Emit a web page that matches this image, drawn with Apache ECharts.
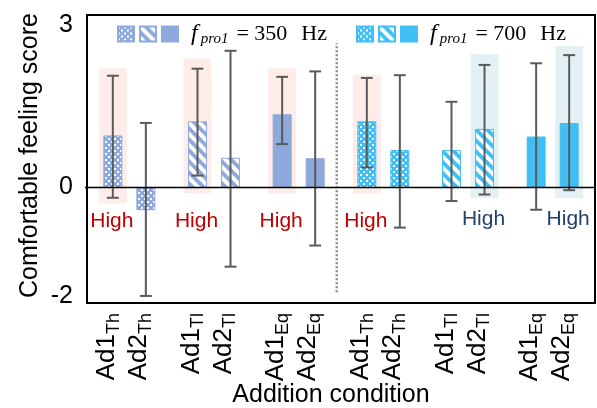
<!DOCTYPE html>
<html>
<head>
<meta charset="utf-8">
<script src="https://cdn.jsdelivr.net/npm/echarts@6/dist/echarts.min.js"></script>
<style>
html, body { margin: 0; padding: 0; background: #fff; }
#main { width: 597px; height: 408px; }
</style>
</head>
<body>
<div id="main"></div>
<script>
// conditions (one category = one Ad1/Ad2 pair)
var conditions = ['Th', 'Tl', 'Eq', 'Th', 'Tl', 'Eq'];
var freqs = ['350', '350', '350', '700', '700', '700'];
// mean and error bar ends
var ad1Mean = [0.95, 1.21, 1.34, 1.21, 0.68, 0.93];
var ad1Low = [-0.19, 0.22, 0.80, 0.37, -0.25, -0.41];
var ad1High = [2.06, 2.19, 2.04, 2.02, 1.58, 2.29];
var ad2Mean = [-0.41, 0.54, 0.53, 0.68, 1.07, 1.18];
var ad2Low = [-2.00, -1.46, -1.07, -0.74, -0.13, -0.05];
var ad2High = [1.19, 2.52, 2.14, 2.07, 2.26, 2.44];
// "High" boxes: category, bar (1 = Ad1, 2 = Ad2), box range, label height
var hlCat = [0, 1, 2, 3, 4, 5];
var hlBar = [1, 1, 1, 1, 2, 2];
var hlLow = [-0.29, -0.10, -0.11, -0.11, -0.20, -0.20];
var hlHigh = [2.20, 2.38, 2.20, 2.07, 2.46, 2.61];
var hlKind = ['red', 'red', 'red', 'red', 'blue', 'blue'];
var highY = [-0.62, -0.62, -0.62, -0.62, -0.58, -0.58];
var highText = 'High';
// dotted separator between the two frequencies
var dividerAfter = 2;
var dividerRange = [-1.93, 2.66];
var yLabels = [-2, 0, 3];

var FONT = 'Liberation Sans';
var colors = { '350': '#8EA9DB', '700': '#3FBFF3' };
var patternOf = { Th: 'dots', Tl: 'stripes', Eq: 'solid' };
var hlColors = { red: '#FDECE7', blue: '#E4F1F4' };
var highColors = { red: '#C00000', blue: '#24406B' };

function makeFill(color, pat) {
    if (pat === 'solid') return color;
    var c = document.createElement('canvas');
    var g = c.getContext('2d');
    if (pat === 'dots') {
        c.width = 6; c.height = 6;
        g.fillStyle = color; g.fillRect(0, 0, 6, 6);
        g.fillStyle = '#fff';
        g.fillRect(0, 0, 2, 2);
        g.fillRect(3, 3, 2, 2);
    } else {
        var n = 11;
        c.width = n; c.height = n;
        g.fillStyle = color; g.fillRect(0, 0, n, n);
        g.strokeStyle = '#fff'; g.lineWidth = 4;
        g.beginPath();
        for (var k = -1; k <= 1; k++) {
            g.moveTo(k * n - 2, -2);
            g.lineTo(k * n + n + 2, n + 2);
        }
        g.stroke();
    }
    return { image: c, repeat: 'repeat' };
}

function barX(api, cat, side) {
    var band = api.size([1, 0])[0];
    return api.coord([cat, 0])[0] + (side === 1 ? -1 : 1) * band * 0.195;
}

function renderBar(params, api) {
    var cat = api.value(0), side = api.value(1);
    var band = api.size([1, 0])[0];
    var x = barX(api, cat, side);
    var w = band * 0.212;
    var y0 = api.coord([cat, 0])[1];
    var ym = api.coord([cat, api.value(2)])[1];
    var lo = api.coord([cat, api.value(3)])[1];
    var hi = api.coord([cat, api.value(4)])[1];
    var cap = band * 0.07;
    var st = api.style();
    var err = { stroke: '#5a5a5a', lineWidth: 2 };
    return {
        type: 'group',
        children: [
            { type: 'rect', shape: { x: x - w / 2, y: Math.min(ym, y0), width: w, height: Math.abs(y0 - ym) },
              style: { fill: st.fill, stroke: st.stroke, lineWidth: 1 } },
            { type: 'line', shape: { x1: x, y1: lo, x2: x, y2: hi }, style: err },
            { type: 'line', shape: { x1: x - cap, y1: lo, x2: x + cap, y2: lo }, style: err },
            { type: 'line', shape: { x1: x - cap, y1: hi, x2: x + cap, y2: hi }, style: err }
        ]
    };
}

function renderHighlight(params, api) {
    var k = params.dataIndex;
    var cat = api.value(0), side = api.value(1);
    var band = api.size([1, 0])[0];
    var x = barX(api, cat, side);
    var w = band * 0.33;
    var lo = api.coord([cat, api.value(2)])[1];
    var hi = api.coord([cat, api.value(3)])[1];
    var ty = api.coord([cat, api.value(4)])[1];
    return {
        type: 'group',
        children: [
            { type: 'rect', shape: { x: x - w / 2, y: hi, width: w, height: lo - hi },
              style: { fill: hlColors[hlKind[k]] } },
            { type: 'text', style: { text: highText, x: x - 1, y: ty, align: 'center', verticalAlign: 'middle',
              fill: highColors[hlKind[k]], font: '21px "' + FONT + '"' } }
        ]
    };
}

function renderLines(params, api) {
    var band = api.size([1, 0])[0];
    var cat = api.value(0);
    var x = (api.coord([cat, 0])[0] + api.coord([cat + 1, 0])[0]) / 2 - band * 0.05;
    var y0 = api.coord([0, 0]);
    var xEnd = api.coord([conditions.length - 1, 0])[0] + band / 2;
    return {
        type: 'group',
        children: [
            { type: 'line', shape: { x1: x, y1: api.coord([cat, api.value(1)])[1], x2: x, y2: api.coord([cat, api.value(2)])[1] },
              style: { stroke: '#8c8c8c', lineWidth: 2.5, lineDash: [2, 2] } },
            { type: 'line', shape: { x1: y0[0] - band / 2 - 2, y1: y0[1], x2: xEnd, y2: y0[1] },
              style: { stroke: '#000', lineWidth: 1.6 } }
        ]
    };
}

var series = [];
var legendNames = { '350': [], '700': [] };
conditions.forEach(function (cond, i) {
    var pat = patternOf[cond];
    var color = colors[freqs[i]];
    var name = freqs[i] + ' ' + pat;
    legendNames[freqs[i]].push(name);
    series.push({
        type: 'custom',
        name: name,
        z: 3,
        itemStyle: { color: makeFill(color, pat), borderColor: color, borderWidth: 1 },
        encode: { x: 0, y: 2 },
        data: [[i, 1, ad1Mean[i], ad1Low[i], ad1High[i]], [i, 2, ad2Mean[i], ad2Low[i], ad2High[i]]],
        renderItem: renderBar
    });
});
series.push({
    type: 'custom',
    z: 1,
    silent: true,
    encode: { x: 0, y: 2 },
    data: hlCat.map(function (c, k) { return [c, hlBar[k], hlLow[k], hlHigh[k], highY[k]]; }),
    renderItem: renderHighlight
});
series.push({
    type: 'custom',
    z: 4,
    silent: true,
    encode: { x: 0, y: 1 },
    data: [[dividerAfter, dividerRange[0], dividerRange[1]]],
    renderItem: renderLines
});

var legendRich = {
    f: { fontFamily: 'Liberation Serif', fontStyle: 'italic', fontSize: 24, lineHeight: 26, padding: [0, 3, 0, 8], color: '#000' },
    p: { fontFamily: 'Liberation Serif', fontStyle: 'italic', fontSize: 15, lineHeight: 19, verticalAlign: 'bottom', color: '#000' },
    e: { fontFamily: 'Liberation Serif', fontSize: 22, lineHeight: 26, padding: [0, 0, 0, 8], color: '#000' },
    h: { fontFamily: 'Liberation Serif', fontSize: 22, lineHeight: 26, padding: [0, 0, 0, 14], color: '#000' }
};
function legendFormatter(name) {
    if (name.indexOf('solid') < 0) return '';
    return '{f|f}{p|pro1}{e|= ' + name.split(' ')[0] + '}{h|Hz}';
}
function makeLegend(freq, left) {
    return {
        data: legendNames[freq],
        left: left,
        top: 17,
        icon: 'rect',
        itemWidth: 16,
        itemHeight: 15,
        itemGap: 4,
        selectedMode: false,
        formatter: legendFormatter,
        textStyle: { rich: legendRich }
    };
}

var option = {
    animation: false,
    textStyle: { fontFamily: FONT },
    grid: { left: 87, right: 2, top: 15, bottom: 105, outerBoundsMode: 'none', show: true, borderColor: '#000', borderWidth: 2 },
    legend: [makeLegend('350', 112), makeLegend('700', 351)],
    xAxis: {
        type: 'category',
        data: conditions.map(function (c, i) { return c + '@' + freqs[i]; }),
        axisLine: { show: false },
        axisTick: { show: false },
        axisLabel: {
            interval: 0,
            rotate: 90,
            margin: 10,
            padding: [0, 0, 13, 0],
            color: '#000',
            fontSize: 26,
            formatter: function (v) {
                var c = v.split('@')[0];
                return '{a|Ad1}{s|' + c + '}\n{a|Ad2}{s|' + c + '}';
            },
            rich: {
                a: { fontSize: 26, lineHeight: 32, color: '#000', fontFamily: FONT },
                s: { fontSize: 18, lineHeight: 29, verticalAlign: 'bottom', color: '#000', fontFamily: FONT }
            }
        },
        name: 'Addition condition',
        nameLocation: 'middle',
        nameMoveOverlap: false,
        nameGap: 80,
        nameTextStyle: { fontSize: 25, color: '#000', padding: [0, 20, 0, 0] }
    },
    yAxis: {
        type: 'value',
        min: -2.13,
        max: 3.18,
        axisLine: { show: false },
        axisTick: { show: false },
        splitLine: { show: false },
        axisLabel: { customValues: yLabels, fontSize: 25, color: '#000', margin: 14 },
        name: 'Comfortable feeling score',
        nameLocation: 'middle',
        nameMoveOverlap: false,
        nameGap: 44,
        nameTextStyle: { fontSize: 25, color: '#000', padding: [0, 0, 0, 7] }
    },
    series: series
};

var chart = echarts.init(document.getElementById('main'));
chart.setOption(option);
</script>
</body>
</html>
